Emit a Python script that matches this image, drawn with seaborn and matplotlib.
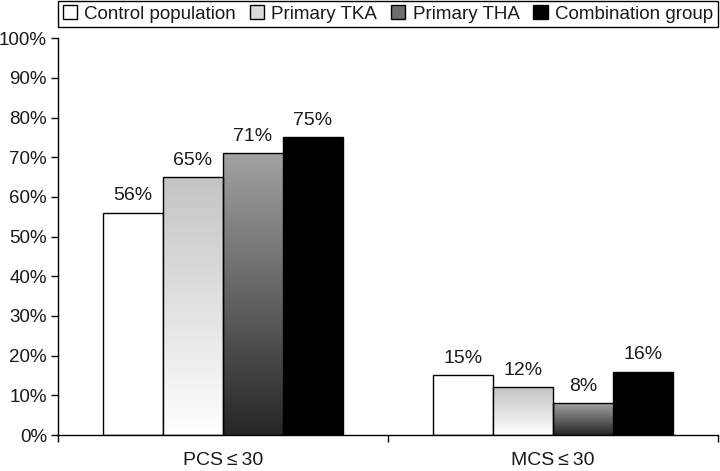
import numpy as np
import pandas as pd
import seaborn as sns
import matplotlib.pyplot as plt
from matplotlib.patches import Patch

# data
categories = ['PCS\u2009\u2264\u200930', 'MCS\u2009\u2264\u200930']
groups = ['Control population', 'Primary TKA', 'Primary THA', 'Combination group']
control = [56, 15]
tka = [65, 12]
tha = [71, 8]
combo = [75, 16]

df = pd.DataFrame({
    'measure': categories * 4,
    'group': [g for g in groups for _ in categories],
    'value': control + tka + tha + combo,
})

sns.set_style('white')
plt.rcParams['font.family'] = ['Liberation Sans', 'DejaVu Sans']
txt = '#1a1a1a'

fig = plt.figure(figsize=(7.2, 4.71), dpi=100)
ax = fig.add_axes([0.0806, 0.0764, 0.9164, 0.8426])

colors = ['white', '#d9d9d9', '#6e6e6e', 'black']
sns.barplot(data=df, x='measure', y='value', hue='group', hue_order=groups,
            order=categories, palette=colors, width=0.727, gap=0,
            edgecolor='black', linewidth=1, legend=False, ax=ax)

# vertical gradients on the two middle series
grads = {1: ('#c4c4c4', '#ffffff'), 2: ('#a2a2a2', '#262626')}
for i, (top, bottom) in grads.items():
    c_top = np.array(plt.matplotlib.colors.to_rgb(top))
    c_bot = np.array(plt.matplotlib.colors.to_rgb(bottom))
    t = np.linspace(0, 1, 256)[:, None]
    img = (c_top * (1 - t) + c_bot * t)[:, None, :]
    for p in ax.containers[i]:
        x0, y0 = p.get_x(), p.get_y()
        w, h = p.get_width(), p.get_height()
        im = ax.imshow(img, extent=[x0, x0 + w, y0, y0 + h], aspect='auto',
                       origin='upper', zorder=p.get_zorder() + 0.1)
        im.set_clip_path(p)
        p.set_facecolor('none')
        p.set_zorder(p.get_zorder() + 0.2)

for c in ax.containers:
    ax.bar_label(c, fmt='%d%%', padding=6, fontsize=14, color=txt)

ax.set_xlim(-0.5, 1.5)
ax.set_ylim(0, 100)
ax.set_yticks(range(0, 101, 10))
ax.set_yticklabels([f'{v}%' for v in range(0, 101, 10)])
ax.set_xlabel('')
ax.set_ylabel('')
ax.set_xticks([-0.5, 0.5, 1.5], minor=True)
ax.tick_params(axis='x', which='major', length=0, pad=12, labelsize=14, labelcolor=txt)
ax.tick_params(axis='x', which='minor', length=5, width=1, direction='out', color='black', bottom=True)
ax.tick_params(axis='y', length=5, width=1, direction='out', color='black', left=True,
               labelsize=13.5, labelcolor=txt, pad=3)
for s in ['top', 'right']:
    ax.spines[s].set_visible(False)
for s in ['left', 'bottom']:
    ax.spines[s].set_color('black')
    ax.spines[s].set_linewidth(1)

handles = [Patch(facecolor=c, edgecolor='black', linewidth=1) for c in colors]
leg = fig.legend(handles, groups, ncol=4, loc='lower left',
                 bbox_to_anchor=(0.0806, 0.942, 0.9164, 0.054), mode='expand',
                 fontsize=13.5, frameon=True, fancybox=False, framealpha=1,
                 edgecolor='black', handlelength=0.75, handleheight=0.75,
                 handletextpad=0.4, borderaxespad=0, borderpad=0.25,
                 columnspacing=0.8)
leg.get_frame().set_linewidth(1)
for t in leg.get_texts():
    t.set_color(txt)

fig.savefig('out.png', dpi=100)
